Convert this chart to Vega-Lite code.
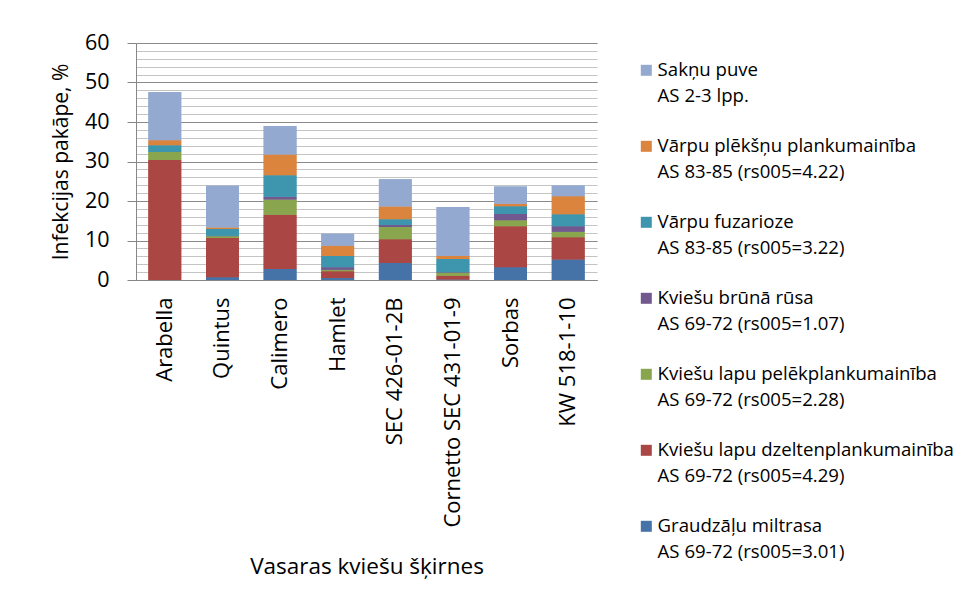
{
  "$schema": "https://vega.github.io/schema/vega-lite/v6.json",
  "autosize": "none",
  "padding": {"left": 136, "top": 43, "right": 360, "bottom": 330},
  "width": 461,
  "height": 237,
  "background": "white",
  "config": {
    "font": "Open Sans",
    "view": {"stroke": null}
  },
  "data": {
    "values": [
      {"variety": "Arabella", "disease": "Graudzāļu miltrasa\nAS 69-72 (rs005=3.01)", "n": 1, "value": 0},
      {"variety": "Arabella", "disease": "Kviešu lapu dzeltenplankumainība\nAS 69-72 (rs005=4.29)", "n": 2, "value": 30.4},
      {"variety": "Arabella", "disease": "Kviešu lapu pelēkplankumainība\nAS 69-72 (rs005=2.28)", "n": 3, "value": 2.0},
      {"variety": "Arabella", "disease": "Kviešu brūnā rūsa\nAS 69-72 (rs005=1.07)", "n": 4, "value": 0},
      {"variety": "Arabella", "disease": "Vārpu fuzarioze\nAS 83-85 (rs005=3.22)", "n": 5, "value": 1.7},
      {"variety": "Arabella", "disease": "Vārpu plēkšņu plankumainība\nAS 83-85 (rs005=4.22)", "n": 6, "value": 1.3},
      {"variety": "Arabella", "disease": "Sakņu puve\nAS 2-3 lpp.", "n": 7, "value": 12.2},

      {"variety": "Quintus", "disease": "Graudzāļu miltrasa\nAS 69-72 (rs005=3.01)", "n": 1, "value": 0.7},
      {"variety": "Quintus", "disease": "Kviešu lapu dzeltenplankumainība\nAS 69-72 (rs005=4.29)", "n": 2, "value": 9.95},
      {"variety": "Quintus", "disease": "Kviešu lapu pelēkplankumainība\nAS 69-72 (rs005=2.28)", "n": 3, "value": 0.45},
      {"variety": "Quintus", "disease": "Kviešu brūnā rūsa\nAS 69-72 (rs005=1.07)", "n": 4, "value": 0.1},
      {"variety": "Quintus", "disease": "Vārpu fuzarioze\nAS 83-85 (rs005=3.22)", "n": 5, "value": 1.7},
      {"variety": "Quintus", "disease": "Vārpu plēkšņu plankumainība\nAS 83-85 (rs005=4.22)", "n": 6, "value": 0.4},
      {"variety": "Quintus", "disease": "Sakņu puve\nAS 2-3 lpp.", "n": 7, "value": 10.55},

      {"variety": "Calimero", "disease": "Graudzāļu miltrasa\nAS 69-72 (rs005=3.01)", "n": 1, "value": 2.8},
      {"variety": "Calimero", "disease": "Kviešu lapu dzeltenplankumainība\nAS 69-72 (rs005=4.29)", "n": 2, "value": 13.7},
      {"variety": "Calimero", "disease": "Kviešu lapu pelēkplankumainība\nAS 69-72 (rs005=2.28)", "n": 3, "value": 3.9},
      {"variety": "Calimero", "disease": "Kviešu brūnā rūsa\nAS 69-72 (rs005=1.07)", "n": 4, "value": 0.65},
      {"variety": "Calimero", "disease": "Vārpu fuzarioze\nAS 83-85 (rs005=3.22)", "n": 5, "value": 5.45},
      {"variety": "Calimero", "disease": "Vārpu plēkšņu plankumainība\nAS 83-85 (rs005=4.22)", "n": 6, "value": 5.3},
      {"variety": "Calimero", "disease": "Sakņu puve\nAS 2-3 lpp.", "n": 7, "value": 7.2},

      {"variety": "Hamlet", "disease": "Graudzāļu miltrasa\nAS 69-72 (rs005=3.01)", "n": 1, "value": 0.5},
      {"variety": "Hamlet", "disease": "Kviešu lapu dzeltenplankumainība\nAS 69-72 (rs005=4.29)", "n": 2, "value": 1.7},
      {"variety": "Hamlet", "disease": "Kviešu lapu pelēkplankumainība\nAS 69-72 (rs005=2.28)", "n": 3, "value": 0.4},
      {"variety": "Hamlet", "disease": "Kviešu brūnā rūsa\nAS 69-72 (rs005=1.07)", "n": 4, "value": 0.6},
      {"variety": "Hamlet", "disease": "Vārpu fuzarioze\nAS 83-85 (rs005=3.22)", "n": 5, "value": 2.9},
      {"variety": "Hamlet", "disease": "Vārpu plēkšņu plankumainība\nAS 83-85 (rs005=4.22)", "n": 6, "value": 2.6},
      {"variety": "Hamlet", "disease": "Sakņu puve\nAS 2-3 lpp.", "n": 7, "value": 3.0},

      {"variety": "SEC 426-01-2B", "disease": "Graudzāļu miltrasa\nAS 69-72 (rs005=3.01)", "n": 1, "value": 4.3},
      {"variety": "SEC 426-01-2B", "disease": "Kviešu lapu dzeltenplankumainība\nAS 69-72 (rs005=4.29)", "n": 2, "value": 6.0},
      {"variety": "SEC 426-01-2B", "disease": "Kviešu lapu pelēkplankumainība\nAS 69-72 (rs005=2.28)", "n": 3, "value": 3.1},
      {"variety": "SEC 426-01-2B", "disease": "Kviešu brūnā rūsa\nAS 69-72 (rs005=1.07)", "n": 4, "value": 0.5},
      {"variety": "SEC 426-01-2B", "disease": "Vārpu fuzarioze\nAS 83-85 (rs005=3.22)", "n": 5, "value": 1.5},
      {"variety": "SEC 426-01-2B", "disease": "Vārpu plēkšņu plankumainība\nAS 83-85 (rs005=4.22)", "n": 6, "value": 3.2},
      {"variety": "SEC 426-01-2B", "disease": "Sakņu puve\nAS 2-3 lpp.", "n": 7, "value": 6.9},

      {"variety": "Cornetto SEC 431-01-9", "disease": "Graudzāļu miltrasa\nAS 69-72 (rs005=3.01)", "n": 1, "value": 0.1},
      {"variety": "Cornetto SEC 431-01-9", "disease": "Kviešu lapu dzeltenplankumainība\nAS 69-72 (rs005=4.29)", "n": 2, "value": 1.0},
      {"variety": "Cornetto SEC 431-01-9", "disease": "Kviešu lapu pelēkplankumainība\nAS 69-72 (rs005=2.28)", "n": 3, "value": 0.75},
      {"variety": "Cornetto SEC 431-01-9", "disease": "Kviešu brūnā rūsa\nAS 69-72 (rs005=1.07)", "n": 4, "value": 0.1},
      {"variety": "Cornetto SEC 431-01-9", "disease": "Vārpu fuzarioze\nAS 83-85 (rs005=3.22)", "n": 5, "value": 3.35},
      {"variety": "Cornetto SEC 431-01-9", "disease": "Vārpu plēkšņu plankumainība\nAS 83-85 (rs005=4.22)", "n": 6, "value": 0.8},
      {"variety": "Cornetto SEC 431-01-9", "disease": "Sakņu puve\nAS 2-3 lpp.", "n": 7, "value": 12.4},

      {"variety": "Sorbas", "disease": "Graudzāļu miltrasa\nAS 69-72 (rs005=3.01)", "n": 1, "value": 3.2},
      {"variety": "Sorbas", "disease": "Kviešu lapu dzeltenplankumainība\nAS 69-72 (rs005=4.29)", "n": 2, "value": 10.4},
      {"variety": "Sorbas", "disease": "Kviešu lapu pelēkplankumainība\nAS 69-72 (rs005=2.28)", "n": 3, "value": 1.5},
      {"variety": "Sorbas", "disease": "Kviešu brūnā rūsa\nAS 69-72 (rs005=1.07)", "n": 4, "value": 1.6},
      {"variety": "Sorbas", "disease": "Vārpu fuzarioze\nAS 83-85 (rs005=3.22)", "n": 5, "value": 2.0},
      {"variety": "Sorbas", "disease": "Vārpu plēkšņu plankumainība\nAS 83-85 (rs005=4.22)", "n": 6, "value": 0.6},
      {"variety": "Sorbas", "disease": "Sakņu puve\nAS 2-3 lpp.", "n": 7, "value": 4.4},

      {"variety": "KW 518-1-10", "disease": "Graudzāļu miltrasa\nAS 69-72 (rs005=3.01)", "n": 1, "value": 5.2},
      {"variety": "KW 518-1-10", "disease": "Kviešu lapu dzeltenplankumainība\nAS 69-72 (rs005=4.29)", "n": 2, "value": 5.6},
      {"variety": "KW 518-1-10", "disease": "Kviešu lapu pelēkplankumainība\nAS 69-72 (rs005=2.28)", "n": 3, "value": 1.4},
      {"variety": "KW 518-1-10", "disease": "Kviešu brūnā rūsa\nAS 69-72 (rs005=1.07)", "n": 4, "value": 1.4},
      {"variety": "KW 518-1-10", "disease": "Vārpu fuzarioze\nAS 83-85 (rs005=3.22)", "n": 5, "value": 3.05},
      {"variety": "KW 518-1-10", "disease": "Vārpu plēkšņu plankumainība\nAS 83-85 (rs005=4.22)", "n": 6, "value": 4.55},
      {"variety": "KW 518-1-10", "disease": "Sakņu puve\nAS 2-3 lpp.", "n": 7, "value": 2.7}
    ]
  },
  "encoding": {
    "x": {
      "field": "variety",
      "type": "nominal",
      "sort": null,
      "scale": {"paddingInner": 0.43, "paddingOuter": 0.215},
      "axis": {
        "title": "Vasaras kviešu šķirnes",
        "titleFontSize": 22.5,
        "titleFontWeight": "normal",
        "titleColor": "black",
        "titleBaseline": "middle",
        "titleY": 286,
        "labelAngle": 270,
        "labelAlign": "right",
        "labelBaseline": "middle",
        "labelFontSize": 22,
        "labelColor": "black",
        "labelPadding": 17,
        "labelLimit": 400,
        "ticks": false,
        "domainColor": "#868686",
        "grid": false
      }
    },
    "color": {
      "field": "disease",
      "type": "nominal",
      "scale": {
        "domain": [
          "Sakņu puve\nAS 2-3 lpp.",
          "Vārpu plēkšņu plankumainība\nAS 83-85 (rs005=4.22)",
          "Vārpu fuzarioze\nAS 83-85 (rs005=3.22)",
          "Kviešu brūnā rūsa\nAS 69-72 (rs005=1.07)",
          "Kviešu lapu pelēkplankumainība\nAS 69-72 (rs005=2.28)",
          "Kviešu lapu dzeltenplankumainība\nAS 69-72 (rs005=4.29)",
          "Graudzāļu miltrasa\nAS 69-72 (rs005=3.01)"
        ],
        "range": ["#93A9CF", "#DB843D", "#3D96AE", "#71588F", "#89A54E", "#AA4643", "#4572A7"]
      },
      "legend": {
        "title": null,
        "orient": "none",
        "legendX": 501,
        "legendY": 18,
        "symbolType": "square",
        "symbolSize": 121,
        "symbolStrokeWidth": 0,
        "symbolOpacity": 1,
        "labelFontSize": 18.6,
        "labelColor": "black",
        "labelOffset": 2,
        "labelLimit": 400,
        "labelBaseline": "middle",
        "rowPadding": 31,
        "labelExpr": "split(datum.label, '\\n')",
        "encode": {
          "labels": {"update": {"lineHeight": {"value": 26}}}
        }
      }
    },
    "order": {"field": "n", "type": "quantitative"}
  },
  "layer": [
    {
      "mark": {"type": "bar"},
      "encoding": {
        "y": {
          "field": "value",
          "type": "quantitative",
          "stack": "zero",
          "scale": {"domain": [0, 60], "nice": false},
          "axis": {
            "orient": "left",
            "values": [0,2,4,6,8,10,12,14,16,18,20,22,24,26,28,30,32,34,36,38,40,42,44,46,48,50,52,54,56,58,60],
            "grid": true,
            "gridColor": "#c4c4c4",
            "gridWidth": 1,
            "labels": false,
            "ticks": false,
            "domain": false,
            "title": null
          }
        }
      }
    },
    {
      "mark": {"type": "bar"},
      "encoding": {
        "y": {
          "field": "value",
          "type": "quantitative",
          "stack": "zero",
          "scale": {"domain": [0, 60], "nice": false},
          "axis": {
            "orient": "left",
            "values": [0,10,20,30,40,50,60],
            "grid": true,
            "gridColor": "#8a8a8a",
            "gridWidth": 1,
            "tickSize": 9,
            "tickColor": "#868686",
            "domainColor": "#868686",
            "labelFontSize": 21.5,
            "labelColor": "black",
            "labelPadding": 18,
            "title": "Infekcijas pakāpe, %",
            "titleFontSize": 21,
            "titleFontWeight": "normal",
            "titleColor": "black",
            "titleBaseline": "middle",
            "titleX": -75
          }
        }
      }
    }
  ],
  "resolve": {"axis": {"y": "independent"}}
}
